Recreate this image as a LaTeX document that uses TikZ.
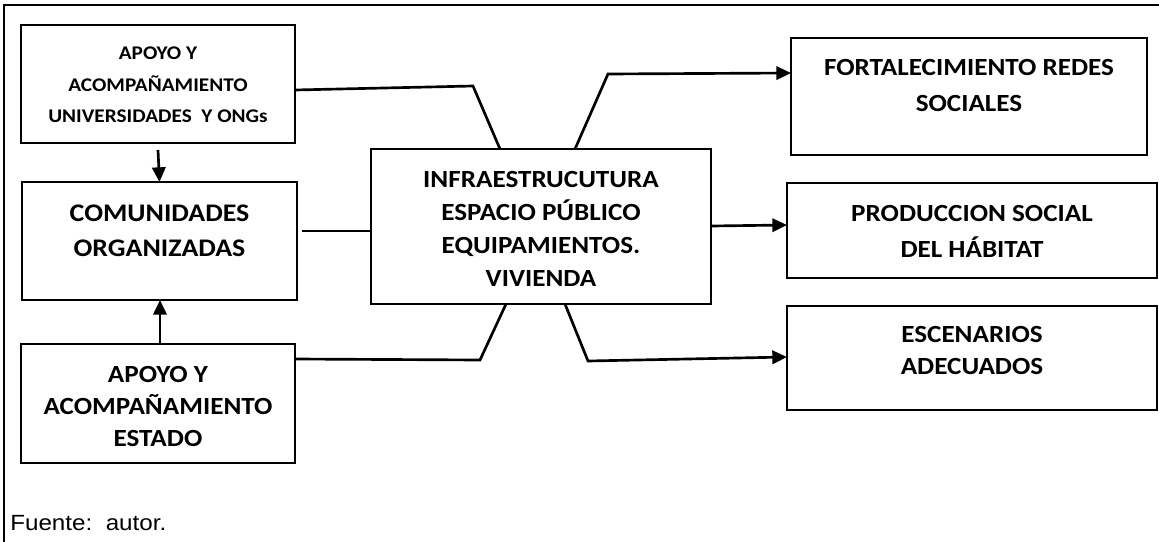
\documentclass[tikz,border=0pt]{standalone}
\usepackage{fontspec}
\setmainfont{Carlito}[FakeStretch=1.1]
\newfontfamily\arialfont{Liberation Sans}[FakeStretch=1.1]
\usetikzlibrary{arrows.meta}
\begin{document}
\begin{tikzpicture}[x=0.75pt,y=-0.75pt,
  box/.style={draw, line width=2pt, inner sep=0pt, outer sep=0pt},
  lbl/.style={align=center, font=\bfseries, inner sep=0pt},
  conn/.style={line width=2pt},
  arr/.style={line width=2pt, -{Triangle[length=11pt,width=10pt]}}]
\useasboundingbox (0,0) rectangle (1159,542);
% frame
\draw[line width=1.5pt] (4,542) -- (4,5) -- (1159,5);
% boxes
\node[box, minimum width=205.5pt, minimum height=88.5pt] (b1) at (158,84) {};
\node[box, minimum width=206.25pt, minimum height=88.5pt] (b2) at (159.5,241) {};
\node[box, minimum width=205.5pt, minimum height=89.25pt] (b3) at (158,403.5) {};
\node[box, minimum width=255pt, minimum height=116.25pt] (c) at (541,226.5) {};
\node[box, minimum width=267pt, minimum height=87.75pt] (b4) at (969,96.5) {};
\node[box, minimum width=277.5pt, minimum height=71.25pt] (b5) at (972,230.5) {};
\node[box, minimum width=277.5pt, minimum height=78pt] (b6) at (972,358) {};
% texts
\node[lbl, font=\bfseries\fontsize{14.5}{23.5}\selectfont] (t1) at (158,85) {APOYO Y\\ACOMPAÑAMIENTO\\UNIVERSIDADES\ \ Y ONGs};
\node[lbl, font=\bfseries\fontsize{19}{26}\selectfont] (t2) at (159.5,230.5) {COMUNIDADES\\ORGANIZADAS};
\node[lbl, font=\bfseries\fontsize{18.5}{24}\selectfont] (t3) at (158,406) {APOYO Y\\ACOMPAÑAMIENTO\\ESTADO};
\node[lbl, font=\bfseries\fontsize{18.5}{24.75}\selectfont] (tc) at (541,229) {INFRAESTRUCUTURA\\ESPACIO PÚBLICO\\EQUIPAMIENTOS.\\VIVIENDA};
\node[lbl, font=\bfseries\fontsize{18.5}{27}\selectfont] (t4) at (969,85) {FORTALECIMIENTO REDES\\SOCIALES};
\node[lbl, font=\bfseries\fontsize{18.5}{27}\selectfont] (t5) at (972,231) {PRODUCCION SOCIAL\\DEL HÁBITAT};
\node[lbl, font=\bfseries\fontsize{18.5}{24}\selectfont] (t6) at (972,350) {ESCENARIOS\\ADECUADOS};
\node[anchor=base west, inner sep=0pt, font=\arialfont\fontsize{16.5}{18}\selectfont] (src) at (10,530) {Fuente:\ \ autor.};
% bend points
\coordinate (k1) at (473,86);
\coordinate (k3) at (480,360);
\coordinate (k4) at (608,74);
\coordinate (k6) at (588,361);
% connectors
\draw[conn] (b1.east |- 0,90) -- (k1) -- (500,0 |- c.north);
\draw[conn] ([xshift=3.75pt]b2.east |- 0,231) -- (c.west |- 0,231);
\draw[conn] (b3.east |- 0,359) -- (k3) -- (506,0 |- c.south);
\draw[arr] (575,0 |- c.north) -- (k4) -- (b4.west |- 0,73);
\draw[arr] (c.east |- 0,226) -- (b5.west |- 0,225);
\draw[arr] (565,0 |- c.south) -- (k6) -- (b6.west |- 0,357);
\draw[arr] ([yshift=-5.25pt]b1.south) -- (b2.north);
\draw[arr] (b3.north -| 160,0) -- (b2.south -| 160,0);
\end{tikzpicture}
\end{document}
